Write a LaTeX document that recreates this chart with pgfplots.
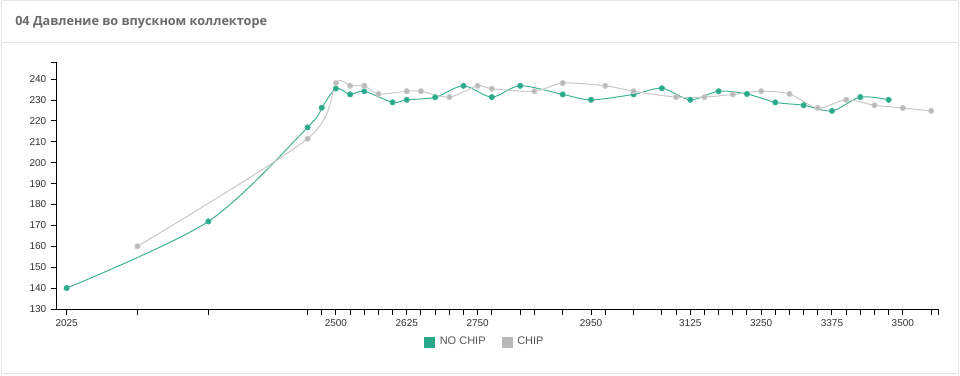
\documentclass[border=0pt]{standalone}
\usepackage{pgfplots}
\pgfplotsset{compat=1.18}
\usepackage{fontspec}
\setmainfont{Liberation Sans}
\newfontfamily\titlefont{Open Sans}
\definecolor{teal2}{HTML}{27A888}
\definecolor{tealline}{HTML}{40B396}
\definecolor{chipgray}{HTML}{B8B8B8}
\definecolor{linegray}{HTML}{C8C8C8}
\definecolor{cardline}{HTML}{E6E6E6}
\definecolor{titlegray}{HTML}{6A6A6A}
\definecolor{ticktext}{HTML}{333333}
\definecolor{legtext}{HTML}{555555}
\begin{document}
\begin{tikzpicture}
\path[use as bounding box] (0,0) rectangle (720pt,281.25pt);
\draw[cardline, line width=0.75pt] (0.75pt,1.5pt) rectangle (718.5pt,280.5pt);
\draw[cardline, line width=0.75pt] (0.75pt,249pt) -- (718.5pt,249pt);
\node[anchor=base west, inner sep=0pt, text=titlegray, font=\titlefont\bfseries\fontsize{9.5pt}{12pt}\selectfont] at (11.25pt,261.75pt) {04 Давление во впускном коллекторе};
\begin{axis}[
  at={(42.75pt,49.5pt)}, anchor=south west,
  scale only axis, width=660.75pt, height=184.95pt,
  xmin=2008, xmax=3562, ymin=130, ymax=248,
  axis x line*=bottom, axis y line*=left,
  axis line style={-, black, line width=0.75pt},
  tick align=outside, major tick length=4.5pt, minor tick length=4.5pt,
  tick style={black, line width=0.75pt},
  xtick={2025,2500,2625,2750,2950,3125,3250,3375,3500},
  minor xtick={2150,2275,2450,2475,2525,2550,2575,2600,2650,2675,2700,2725,2775,2825,2850,2900,2975,3025,3075,3100,3150,3175,3200,3225,3275,3300,3325,3350,3400,3425,3450,3475,3550,3562},
  ytick={130,140,...,240},
  minor ytick={248},
  /pgf/number format/assume math mode=true,
  /pgf/number format/set thousands separator={},
  ticklabel style={font=\fontsize{7.5pt}{9pt}\selectfont, text=ticktext},
  legend style={at={(0.486,-0.134)}, anchor=center, draw=none, fill=none,
    legend columns=2, font=\fontsize{8.25pt}{10pt}\selectfont, text=legtext,
    /tikz/every odd column/.append style={column sep=1.5pt},
    /tikz/every even column/.append style={column sep=10pt}},
  legend cell align=left,
]
\addplot[tealline, line width=0.75pt, smooth, mark=*, mark size=1.9pt,
  mark options={draw=none, fill=teal2},
  legend image code/.code={\fill[teal2] (0pt,-3.75pt) rectangle (7.5pt,3.75pt);}]
coordinates {
(2025,140.0) (2275,171.9) (2450,216.9) (2475,226.3) (2500,235.5) (2525,232.7)
(2550,234.2) (2600,228.9) (2625,230.1) (2675,231.3) (2725,236.8) (2775,231.4)
(2825,236.8) (2900,232.7) (2950,230.1) (3025,232.7) (3075,235.6) (3125,230.1)
(3175,234.2) (3225,232.9) (3275,228.9) (3325,227.5) (3375,224.8) (3425,231.4)
(3475,230.1)
};
\addlegendentry{NO CHIP}
\addplot[linegray, line width=0.75pt, smooth, mark=*, mark size=1.9pt,
  mark options={draw=none, fill=chipgray},
  legend image code/.code={\fill[chipgray] (0pt,-3.75pt) rectangle (7.5pt,3.75pt);}]
coordinates {
(2150,160.0) (2450,211.5) (2500,238.1) (2525,236.8) (2550,236.8) (2575,232.9)
(2625,234.2) (2650,234.2) (2700,231.4) (2750,236.8) (2775,235.4) (2850,234.2)
(2900,238.1) (2975,236.8) (3025,234.2) (3100,231.4) (3150,231.4) (3200,232.7)
(3250,234.2) (3300,232.9) (3350,226.2) (3400,230.1) (3450,227.5) (3500,226.2)
(3550,224.8)
};
\addlegendentry{CHIP}
\end{axis}
\end{tikzpicture}
\end{document}
